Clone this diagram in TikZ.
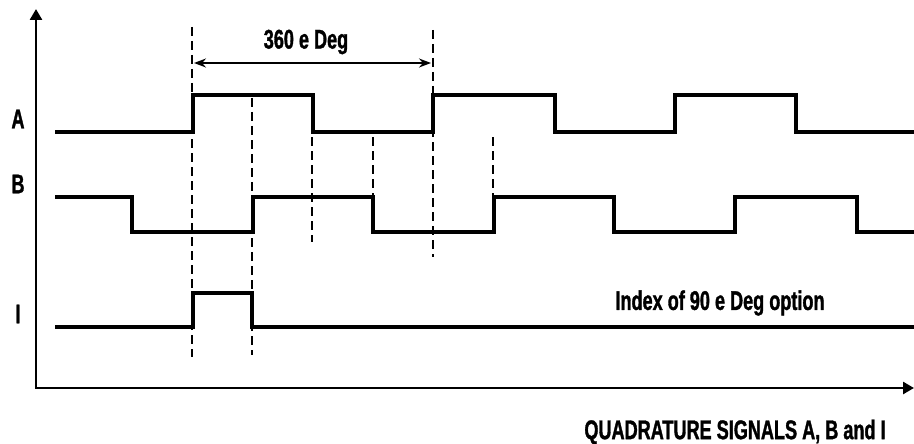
\documentclass[tikz,border=0pt]{standalone}
\usepackage{fontspec}
\newfontfamily\sigfont{Liberation Sans}[FakeStretch=0.67, BoldFeatures={FakeBold=1.2}]
\usetikzlibrary{arrows.meta}

\begin{document}
\begin{tikzpicture}[x=1pt, y=-1pt,
  signal/.style={line width=4pt, line join=miter, line cap=butt},
  axis/.style={line width=2.6pt, {Triangle[length=11pt,width=12pt]}-{Triangle[length=11pt,width=12pt]}},
  guide/.style={line width=1.4pt, dash pattern=on 9pt off 5pt},
  span/.style={line width=1.6pt, {Stealth[length=12pt,width=9pt]}-{Stealth[length=12pt,width=9pt]}},
  label/.style={font=\sigfont\bfseries\fontsize{27}{29}\selectfont, inner sep=0pt},
]
\useasboundingbox (0,0) rectangle (914,444);

% Axes
\coordinate (ytop) at (36,9);
\coordinate (orig) at (36,388);
\coordinate (xend) at (914,388);
\draw[axis] (ytop) -- (orig) -- (xend);

% Guide lines
\foreach \gx/\gtop/\gbot in {192/27/357, 252/98/355, 312/137/242, 373/137/197, 433/30/257, 493/137/197}
  \draw[guide] (\gx,\gtop) -- (\gx,\gbot);

% Signal A
\draw[signal] (55,132) -- (193,132) -- (193,95) -- (313,95) -- (313,132) -- (433,132) -- (433,95)
  -- (555,95) -- (555,132) -- (675,132) -- (675,95) -- (796,95) -- (796,132) -- (914,132);

% Signal B
\draw[signal] (55,197) -- (132,197) -- (132,232) -- (253,232) -- (253,197) -- (373,197) -- (373,232)
  -- (494,232) -- (494,197) -- (614,197) -- (614,232) -- (735,232) -- (735,197) -- (857,197)
  -- (857,232) -- (914,232);

% Signal I
\draw[signal] (55,327) -- (193,327) -- (193,293) -- (252,293) -- (252,327) -- (914,327);

% One period
\coordinate (pl) at (194,63);
\coordinate (pr) at (431,63);
\draw[span] (pl) -- (pr);
\node[label] (period) at (306,42) {360 e Deg};

% Labels
\node[label] (la) at (18,119) {A};
\node[label] (lb) at (18,184) {B};
\node[label] (li) at (18,314) {I};
\node[label] (index) at (720,303) {Index of 90 e Deg option};
\node[label] (title) at (735,432) {QUADRATURE SIGNALS A, B and I};

\end{tikzpicture}
\end{document}
